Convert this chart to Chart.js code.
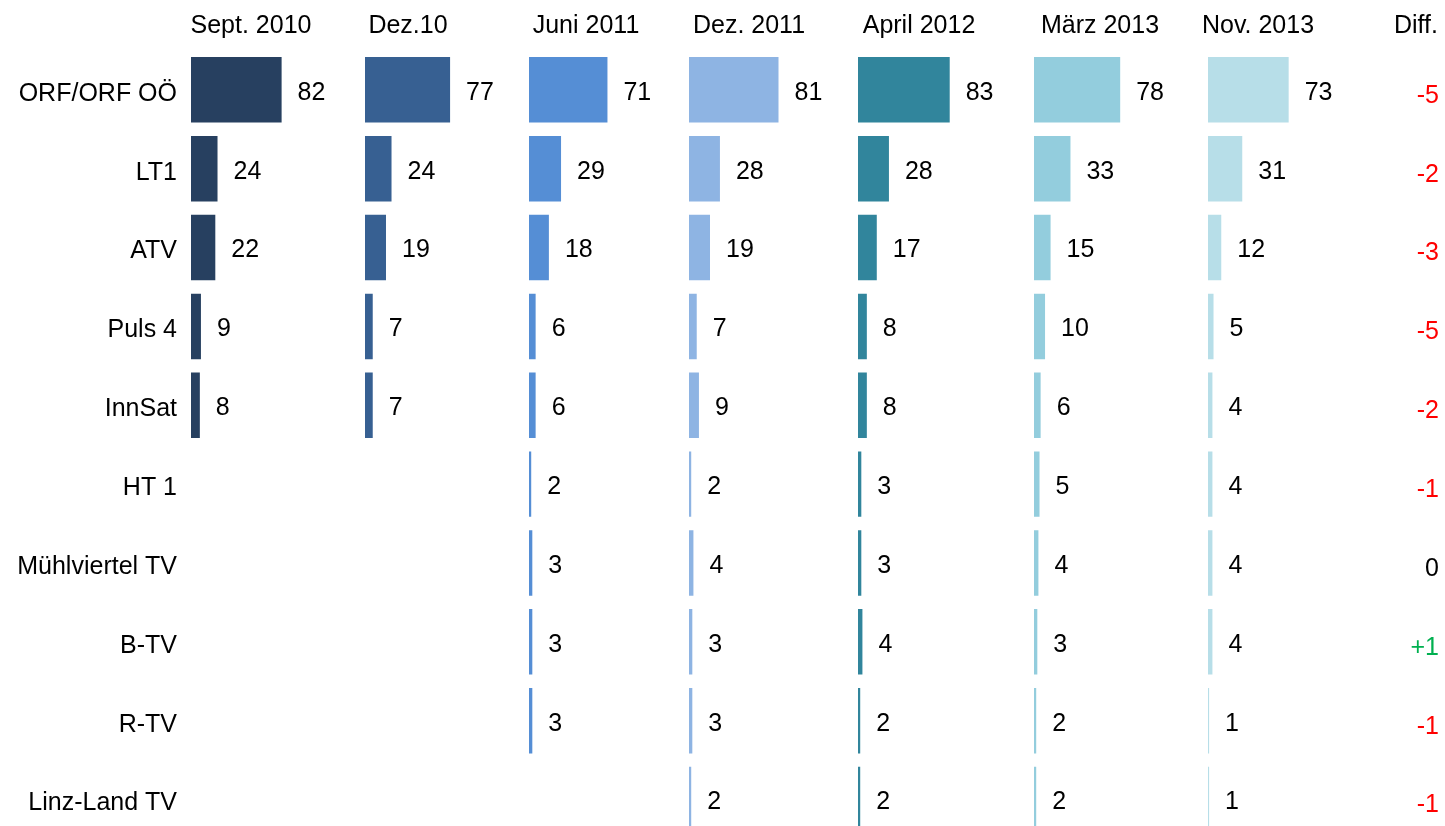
<!DOCTYPE html>
<html>
<head>
<meta charset="utf-8">
<script src="https://cdn.jsdelivr.net/npm/chart.js@4.4.0/dist/chart.umd.min.js"></script>
<style>
  html, body { margin: 0; padding: 0; background: #fff; overflow: hidden; }
  #frame { width: 1445px; height: 826px; overflow: hidden; }
  #box { position: relative; width: 1445px; height: 879px; }
</style>
</head>
<body>
<div id="frame"><div id="box"><canvas id="tv-chart"></canvas></div></div>
<script>
// Data
var categories = ['ORF/ORF OÖ', 'LT1', 'ATV', 'Puls 4', 'InnSat', 'HT 1', 'Mühlviertel TV', 'B-TV', 'R-TV', 'Linz-Land TV'];
var periods = ['Sept. 2010', 'Dez.10', 'Juni 2011', 'Dez. 2011', 'April 2012', 'März 2013', 'Nov. 2013'];
var sept2010 = [82, 24, 22, 9, 8, null, null, null, null, null];
var dez2010 = [77, 24, 19, 7, 7, null, null, null, null, null];
var juni2011 = [71, 29, 18, 6, 6, 2, 3, 3, 3, null];
var dez2011 = [81, 28, 19, 7, 9, 2, 4, 3, 3, 2];
var april2012 = [83, 28, 17, 8, 8, 3, 3, 4, 2, 2];
var maerz2013 = [78, 33, 15, 10, 6, 5, 4, 3, 2, 2];
var nov2013 = [73, 31, 12, 5, 4, 4, 4, 4, 1, 1];
var diffLabels = ['-5', '-2', '-3', '-5', '-2', '-1', '0', '+1', '-1', '-1'];

var series = [sept2010, dez2010, juni2011, dez2011, april2012, maerz2013, nov2013];
var colors = ['#274060', '#376092', '#558ED5', '#8EB4E3', '#31859C', '#93CDDD', '#B7DEE8'];

// layout of the panels (px)
var panelWidths = [174, 164, 160, 169, 176, 174, 174];
var headerOffsets = [60, 43, 57, 60, 61, 66, 50];
var pxPerUnit = 1.105;
var font = 'Arial, "Liberation Sans", sans-serif';

var datasets = series.map(function (values, i) {
  return {
    label: periods[i],
    data: values,
    xAxisID: 'x' + i,
    backgroundColor: colors[i],
    borderWidth: 0
  };
});

var scales = {
  y: {
    type: 'category',
    position: 'left',
    labels: categories,
    grid: { display: false, drawTicks: false },
    border: { display: false },
    ticks: {
      color: '#000',
      padding: 14,
      labelOffset: 4,
      font: { family: font, size: 25 }
    },
    afterFit: function (scale) { scale.width = 191; }
  }
};
panelWidths.forEach(function (w, i) {
  scales['x' + i] = {
    type: 'linear',
    position: 'bottom',
    stack: 'panels',
    stackWeight: w,
    min: 0,
    max: w / pxPerUnit,
    display: false
  };
});

var textPlugin = {
  id: 'texts',
  afterDatasetsDraw: function (chart) {
    var ctx = chart.ctx;
    ctx.save();
    ctx.font = '25px ' + font;
    ctx.textBaseline = 'middle';

    // value labels
    chart.data.datasets.forEach(function (ds, i) {
      var meta = chart.getDatasetMeta(i);
      meta.data.forEach(function (bar, j) {
        var v = ds.data[j];
        if (v === null) return;
        ctx.fillStyle = '#000';
        ctx.textAlign = 'left';
        ctx.fillText(String(v), bar.x + 16, bar.y + 3);
      });
    });

    // column headers
    ctx.textBaseline = 'alphabetic';
    ctx.textAlign = 'center';
    ctx.fillStyle = '#000';
    periods.forEach(function (p, i) {
      var sc = chart.scales['x' + i];
      ctx.fillText(p, sc.left + headerOffsets[i], 33);
    });
    ctx.textAlign = 'right';
    ctx.fillText('Diff.', 1438, 33);

    // differences
    ctx.textBaseline = 'middle';
    var yScale = chart.scales.y;
    diffLabels.forEach(function (d, j) {
      ctx.fillStyle = d.charAt(0) === '-' ? '#FF0000' : (d.charAt(0) === '+' ? '#00B050' : '#000');
      ctx.fillText(d, 1439, yScale.getPixelForValue(j) + 6);
    });
    ctx.restore();
  }
};

var ctx = document.getElementById('tv-chart').getContext('2d');
var myChart = new Chart(ctx, {
  type: 'bar',
  data: { labels: categories, datasets: datasets },
  options: {
    indexAxis: 'y',
    responsive: true,
    maintainAspectRatio: false,
    animation: false,
    layout: { padding: { top: 50.4, bottom: 40, left: 0, right: 63 } },
    datasets: {
      bar: { grouped: false, categoryPercentage: 1, barPercentage: 0.83 }
    },
    scales: scales,
    plugins: {
      legend: { display: false },
      tooltip: { enabled: false }
    }
  },
  plugins: [textPlugin]
});
</script>
</body>
</html>
